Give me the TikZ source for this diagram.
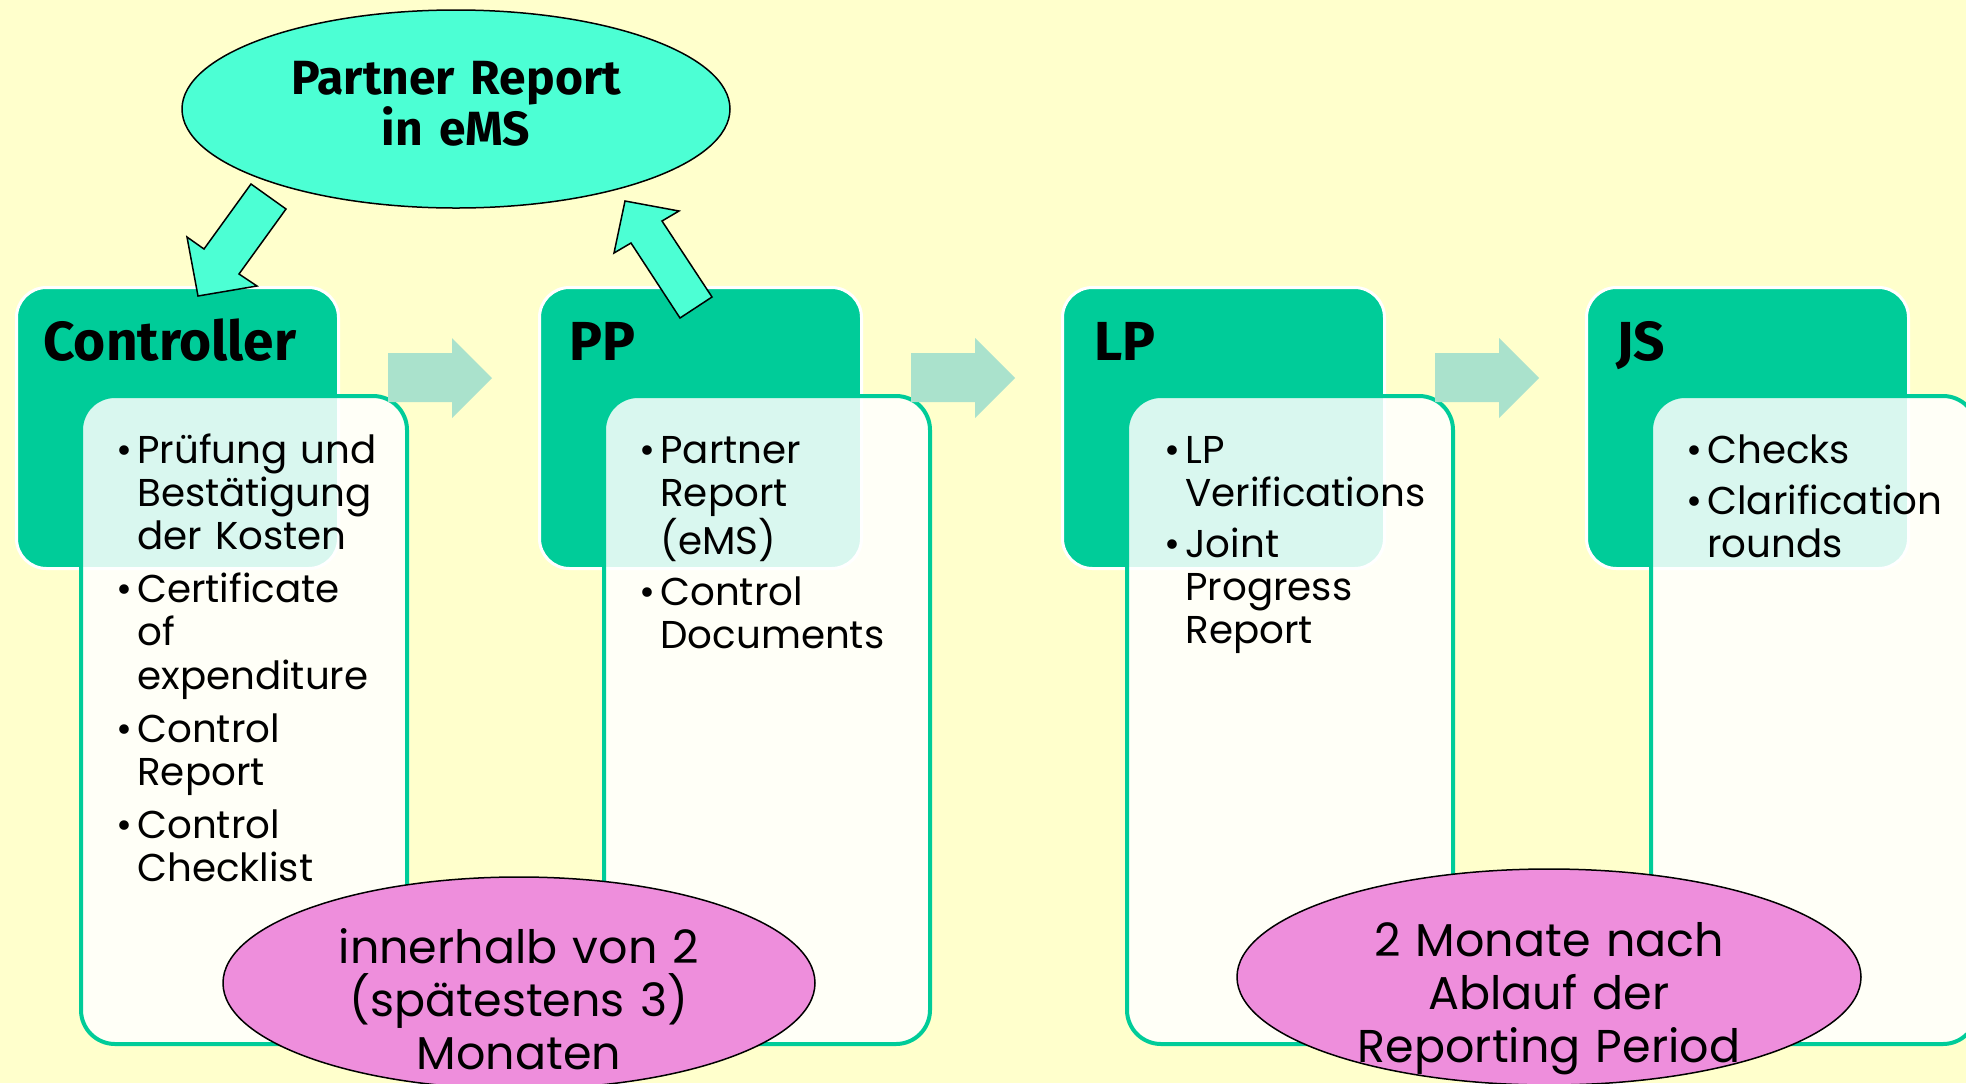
\documentclass[tikz,border=0pt]{standalone}
\usepackage{fontspec}
\setmainfont{Poppins}
\newfontfamily\headfont{Fira Sans}
\usetikzlibrary{shapes.geometric}
\definecolor{paper}{RGB}{255,255,204}
\definecolor{headgreen}{RGB}{0,204,153}
\definecolor{bubblegreen}{RGB}{76,255,212}
\definecolor{flowgreen}{RGB}{170,226,204}
\definecolor{bubblepink}{RGB}{238,142,220}
\newcommand{\itm}{\leavevmode\llap{\textbullet\hspace{2.5pt}}}

\tikzset{
  head/.style={draw=white, line width=1.5pt, fill=headgreen, rounded corners=15pt,
    anchor=north west, minimum width=161pt, minimum height=140.5pt, inner sep=0pt},
  card/.style={draw=headgreen, line width=2pt, fill=white, fill opacity=0.85,
    rounded corners=17pt, anchor=north west, minimum width=163pt, minimum height=324pt, inner sep=0pt},
  title/.style={anchor=base west, inner sep=0pt, font=\headfont\bfseries\fontsize{27.5}{30}\selectfont},
  list/.style={anchor=base west, inner sep=0pt, text width=135pt, align=left,
    font=\fontsize{19.4}{21.6}\selectfont},
  flow/.style={fill=flowgreen},
  pointer/.style={fill=bubblegreen, draw=black, line width=0.75pt, line join=miter},
  bubble/.style={ellipse, fill=bubblegreen, draw=black, line width=0.75pt, inner sep=0pt},
  blob/.style={ellipse, fill=bubblepink, draw=black, line width=0.75pt, inner sep=0pt},
  bubbletext/.style={anchor=base, inner sep=0pt, text width=200pt, align=center,
    font=\headfont\bfseries\fontsize{24}{25.5}\selectfont},
  blobtext/.style={anchor=base, inner sep=0pt, text width=220pt, align=center,
    font=\fontsize{23}{26.5}\selectfont}
}

\begin{document}
\begin{tikzpicture}[x=0.5pt, y=-0.5pt]
\useasboundingbox (0,0) rectangle (1966,1083);
\clip (0,0) rectangle (1966,1083);
\fill[paper] (0,0) rectangle (1966,1083);

% columns
\foreach \x/\name in {15/ctrl,538/pp,1061/lp,1585/js}{
  \node[head] (\name head) at (\x,286) {};
  \node[card] (\name card) at (\x+64,394) {};
}

\node[title] (ctrltitle) at (43,360) {Controller};
\node[title] (pptitle) at (569,360) {PP};
\node[title] (lptitle) at (1094,360) {LP};
\node[title] (jstitle) at (1616,360) {JS};

\node[list] (ctrllist) at (137,463) {\itm Prüfung und\\ Bestätigung\\ der Kosten\\[5pt]
  \itm Certificate\\ of\\ expenditure\\[5pt] \itm Control\\ Report\\[5pt] \itm Control\\ Checklist};
\node[list] (pplist) at (660,463) {\itm Partner\\ Report\\ (eMS)\\[4pt] \itm Control\\ Documents};
\node[list] (lplist) at (1185,463) {\itm LP\\ Verifications\\[4pt] \itm Joint\\ Progress\\ Report};
\node[list] (jslist) at (1707,463) {\itm Checks\\[4pt] \itm Clarification\\ rounds};

% flow between the columns
\foreach \x in {388,911,1435}{
  \fill[flow] (\x,353) -- ++(64,0) -- ++(0,-15) -- ++(40,40) -- ++(-40,40)
    -- ++(0,-16) -- ++(-64,0) -- cycle;
}

% partner report in eMS
\node[bubble, minimum width=274pt, minimum height=99pt] (report) at (456,109) {};
\node[bubbletext] (reporttext) at (456,94) {Partner Report\\ in eMS};
\filldraw[pointer] (251,184) -- (286,209) -- (239,274) -- (257,286) -- (198,296)
  -- (187,237) -- (204,249) -- cycle;
\filldraw[pointer] (680,318) -- (712,297) -- (662,221) -- (679,211) -- (625,201)
  -- (614,253) -- (631,243) -- cycle;

% deadlines
\node[blob, minimum width=296pt, minimum height=106pt] (ctrltime) at (519,983) {};
\node[blobtext] (ctrltimetext) at (519,963) {innerhalb von 2\\ (spätestens 3)\\ Monaten};
\node[blob, minimum width=312pt, minimum height=108pt] (jstime) at (1549,977) {};
\node[blobtext] (jstimetext) at (1549,956) {2 Monate nach\\ Ablauf der\\ Reporting Period};
\end{tikzpicture}
\end{document}
